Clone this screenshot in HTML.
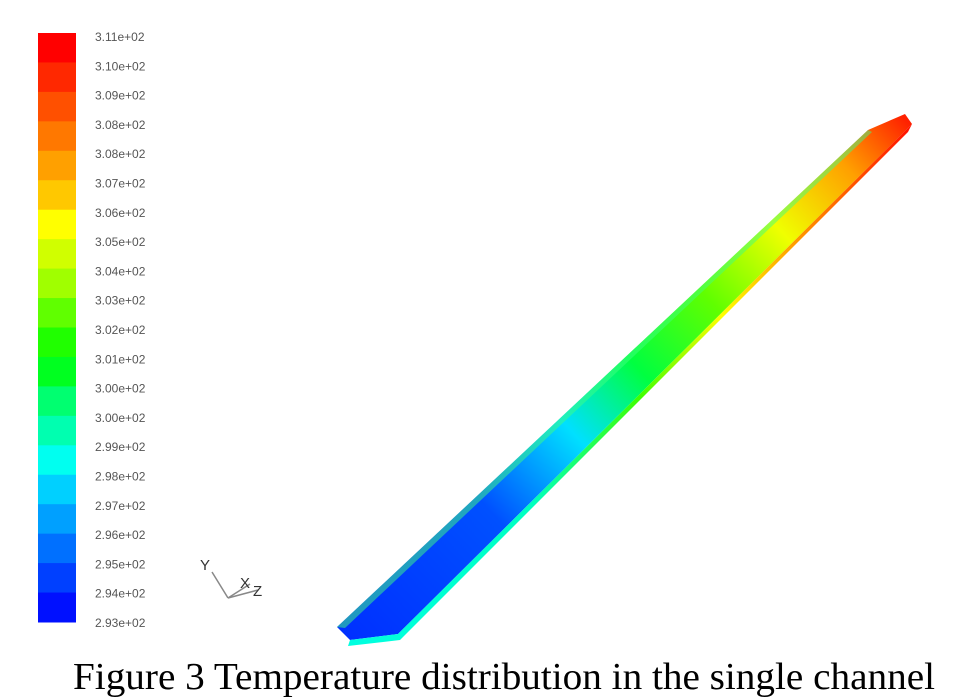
<!DOCTYPE html>
<html><head><meta charset="utf-8"><style>
body{margin:0;background:#fff;width:974px;height:700px;overflow:hidden}
svg{display:block}
</style></head><body>
<svg id="c" width="974" height="700" xmlns="http://www.w3.org/2000/svg">
<defs>
<linearGradient id="along" gradientUnits="userSpaceOnUse" x1="345" y1="635" x2="905" y2="118">
<stop offset="0" stop-color="#0030ff"/>
<stop offset="0.25" stop-color="#0050ff"/>
<stop offset="0.4" stop-color="#00e0ff"/>
<stop offset="0.52" stop-color="#00ff40"/>
<stop offset="0.65" stop-color="#60ff00"/>
<stop offset="0.78" stop-color="#f0ff00"/>
<stop offset="0.9" stop-color="#ffa000"/>
<stop offset="1" stop-color="#ff2000"/>
</linearGradient>
<linearGradient id="side" gradientUnits="userSpaceOnUse" x1="345" y1="640" x2="910" y2="125">
<stop offset="0" stop-color="#00ffe0"/>
<stop offset="0.3" stop-color="#00ffc0"/>
<stop offset="0.5" stop-color="#40ff00"/>
<stop offset="0.65" stop-color="#ffff00"/>
<stop offset="0.8" stop-color="#ff9000"/>
<stop offset="1" stop-color="#ff1000"/>
</linearGradient>
</defs>
<g id="bar"></g>
<g id="labels" font-family="Liberation Sans, sans-serif" font-size="12" fill="#555"></g>
<g>
<polygon points="337,627 868,130 905,114 912,124 398,634 350,640" fill="url(#along)"/>
<polygon points="350,640 398,634 912,124 908,132 400,640 348,646" fill="url(#side)"/>
<polygon points="337,627 868,130 872,132 345,628" fill="#40ff80" opacity="0.5"/>
</g>
<g stroke="#888" stroke-width="1.5" fill="none">
<line x1="212" y1="572" x2="228" y2="598"/>
<line x1="228" y1="598" x2="250" y2="584"/>
<line x1="228" y1="598" x2="258" y2="590"/>
</g>
<g font-family="Liberation Sans, sans-serif" font-size="15" fill="#333">
<text x="200" y="570">Y</text>
<text x="240" y="588">X</text>
<text x="253" y="596">Z</text>
</g>
<text x="73" y="689" textLength="862" lengthAdjust="spacingAndGlyphs" font-family="Liberation Serif, serif" font-size="38" fill="#000">Figure 3 Temperature distribution in the single channel</text>
</svg>
<script>
const tickLabels=["3.11e+02","3.10e+02","3.09e+02","3.08e+02","3.08e+02","3.07e+02","3.06e+02","3.05e+02","3.04e+02","3.03e+02","3.02e+02","3.01e+02","3.00e+02","3.00e+02","2.99e+02","2.98e+02","2.97e+02","2.96e+02","2.95e+02","2.94e+02","2.93e+02"];
const bandColors=["#ff0000","#ff2800","#ff5000","#ff7800","#ffa000","#ffc800","#ffff00","#d0ff00","#a0ff00","#60ff00","#20ff00","#00ff20","#00ff70","#00ffb0","#00fff0","#00d0ff","#00a0ff","#0070ff","#0040ff","#0010ff"];
const ns="http://www.w3.org/2000/svg";
const top0=33,bot0=622,nb=bandColors.length,bh=(bot0-top0)/nb;
const bar=document.getElementById('bar'),lab=document.getElementById('labels');
bandColors.forEach((c,i)=>{const r=document.createElementNS(ns,'rect');
r.setAttribute('x',38);r.setAttribute('y',top0+i*bh);r.setAttribute('width',38);r.setAttribute('height',bh+0.5);r.setAttribute('fill',c);


bar.appendChild(r);});
const step=(bot0+1-37)/(tickLabels.length-1);
tickLabels.forEach((t,i)=>{const e=document.createElementNS(ns,'text');
e.setAttribute('x',95);e.setAttribute('y',37+i*step+4);e.textContent=t;


lab.appendChild(e);});
</script>
</body></html>
